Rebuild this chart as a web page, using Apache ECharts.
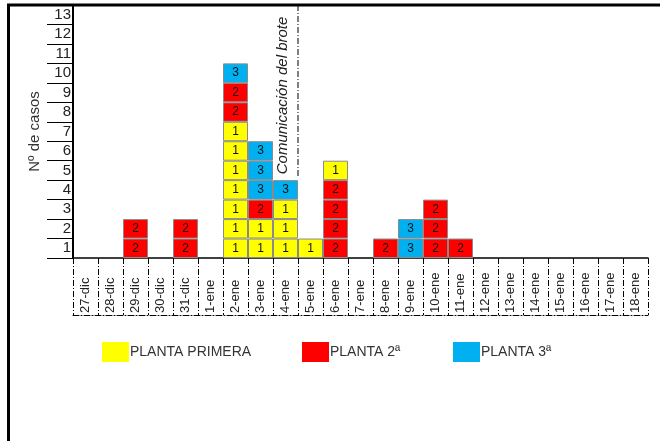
<!DOCTYPE html>
<html>
<head>
<meta charset="utf-8">
<script src="https://cdn.jsdelivr.net/npm/echarts@6/dist/echarts.min.js"></script>
<style>
  html, body { margin: 0; padding: 0; background: #fff; }
  #chart { width: 660px; height: 441px; }
</style>
</head>
<body>
<div id="chart"></div>
<script>
// Fecha de inicio de síntomas
const categories = ['27-dic', '28-dic', '29-dic', '30-dic', '31-dic', '1-ene', '2-ene', '3-ene',
  '4-ene', '5-ene', '6-ene', '7-ene', '8-ene', '9-ene', '10-ene', '11-ene', '12-ene', '13-ene',
  '14-ene', '15-ene', '16-ene', '17-ene', '18-ene'];

// Casos por día, apilados de abajo arriba; cada número es la planta del caso
const casesByDay = [
  [], [], [2, 2], [], [2, 2], [],
  [1, 1, 1, 1, 1, 1, 1, 2, 2, 3],
  [1, 1, 2, 3, 3, 3],
  [1, 1, 1, 3],
  [1],
  [2, 2, 2, 2, 1],
  [],
  [2],
  [3, 3],
  [2, 2, 2],
  [2],
  [], [], [], [], [], [], []
];

const plantNames = ['PLANTA PRIMERA', 'PLANTA 2ª', 'PLANTA 3ª'];
const plantColors = ['#ffff00', '#ff0000', '#00b0f0'];
const yTickLabels = ['1', '2', '3', '4', '5', '6', '7', '8', '9', '10', '11', '12', '13'];
const outbreakNoticeDay = '4-ene';
const outbreakNoticeText = 'Comunicación del brote';

const FONT = 'Liberation Sans, Arial, sans-serif';
const chart = echarts.init(document.getElementById('chart'));

// One stacked series per level: every case is drawn as a one-unit box
const maxLevel = Math.max(...casesByDay.map(d => d.length));
const levelSeries = [];
for (let k = 0; k < maxLevel; k++) {
  levelSeries.push({
    type: 'bar',
    stack: 'casos',
    yAxisIndex: 0,
    xAxisIndex: 0,
    barCategoryGap: 0,
    barGap: 0,
    silent: true,
    data: casesByDay.map(day => {
      if (day.length <= k) return '-';
      const p = day[k];
      return {
        value: 1,
        itemStyle: { color: plantColors[p - 1] },
        label: { formatter: String(p) }
      };
    }),
    itemStyle: { borderColor: '#8a8a8a', borderWidth: 1 },
    label: {
      show: true, position: 'inside', color: '#111',
      fontFamily: FONT, fontSize: 12
    }
  });
}

// Empty series that only feed the legend
const legendSeries = plantNames.map((name, i) => ({
  type: 'scatter', name, data: [],
  itemStyle: { color: plantColors[i], opacity: 1 }
}));

const legendLefts = [97, 297, 448];
const legends = plantNames.map((name, i) => ({
  data: [name],
  left: legendLefts[i], top: 337,
  itemWidth: 27, itemHeight: 20, itemGap: 4,
  icon: 'rect', selectedMode: false,
  itemStyle: { opacity: 1 },
  textStyle: { fontFamily: FONT, fontSize: 14, color: '#333', padding: [0, 0, 0, -4] }
}));

const dashDot = [6, 2, 1, 2];

const option = {
  animation: false,
  backgroundColor: '#fff',
  grid: { left: 73, right: 12, top: 5, bottom: 183, containLabel: false },
  legend: legends,
  xAxis: [
    {
      type: 'category', data: categories, position: 'bottom',
      axisLine: { lineStyle: { color: '#000', width: 1.5 } },
      axisTick: { show: true, length: 57, lineStyle: { color: '#000', width: 1, type: dashDot } },
      axisLabel: {
        rotate: 90, align: 'left', margin: 55, interval: 0,
        fontFamily: FONT, fontSize: 13, color: '#222'
      },
      splitLine: { show: false }
    },
    {
      type: 'category', data: categories, position: 'bottom', offset: 57,
      axisLine: { lineStyle: { color: '#000', width: 1, type: dashDot } },
      axisTick: { show: false }, axisLabel: { show: false }
    },
    {
      type: 'category', data: categories, position: 'bottom',
      axisLine: { show: false },
      axisTick: { show: true, length: 6, lineStyle: { color: '#000', width: 1 } },
      axisLabel: { show: false }
    }
  ],
  yAxis: [
    { type: 'value', min: 0, max: 13, interval: 1, show: false },
    {
      type: 'category', data: yTickLabels, position: 'left',
      axisLine: { show: true, lineStyle: { color: '#000', width: 2 } },
      axisTick: { show: true, length: 26, interval: 0, lineStyle: { color: '#000', width: 1 } },
      axisLabel: { margin: 2, interval: 0, fontFamily: FONT, fontSize: 15, color: '#222' },
      name: 'Nº de casos', nameLocation: 'middle', nameGap: 31, nameRotate: 90,
      nameTextStyle: { fontFamily: FONT, fontSize: 15, color: '#333' }
    }
  ],
  series: [...levelSeries, ...legendSeries]
};
chart.setOption(option);

// Outbreak notification line and frame, placed through the axis scales
const xa = chart.getModel().getComponent('xAxis', 0).axis;
const bandW = xa.getBandWidth();
const xLine = chart.convertToPixel({ xAxisIndex: 0 }, outbreakNoticeDay) + bandW / 2;
const yTop = chart.convertToPixel({ yAxisIndex: 0 }, 13);
const yLineEnd = chart.convertToPixel({ yAxisIndex: 0 }, 4.2);

chart.setOption({
  graphic: [
    {
      type: 'line', silent: true,
      shape: { x1: xLine, y1: yTop, x2: xLine, y2: yLineEnd },
      style: { stroke: '#000', lineWidth: 1, lineDash: dashDot }
    },
    {
      type: 'text', silent: true,
      x: xLine - 15, y: yLineEnd - 2, rotation: Math.PI / 2,
      style: {
        text: outbreakNoticeText, fontFamily: FONT, fontSize: 15, fontStyle: 'italic',
        fill: '#222', align: 'left', verticalAlign: 'middle'
      }
    },
    {
      type: 'line', silent: true,
      shape: { x1: 8.5, y1: 4, x2: 8.5, y2: 441 },
      style: { stroke: '#000', lineWidth: 3 }
    },
    {
      type: 'line', silent: true,
      shape: { x1: 7, y1: 5, x2: 660, y2: 5 },
      style: { stroke: '#000', lineWidth: 3 }
    }
  ]
});
</script>
</body>
</html>
